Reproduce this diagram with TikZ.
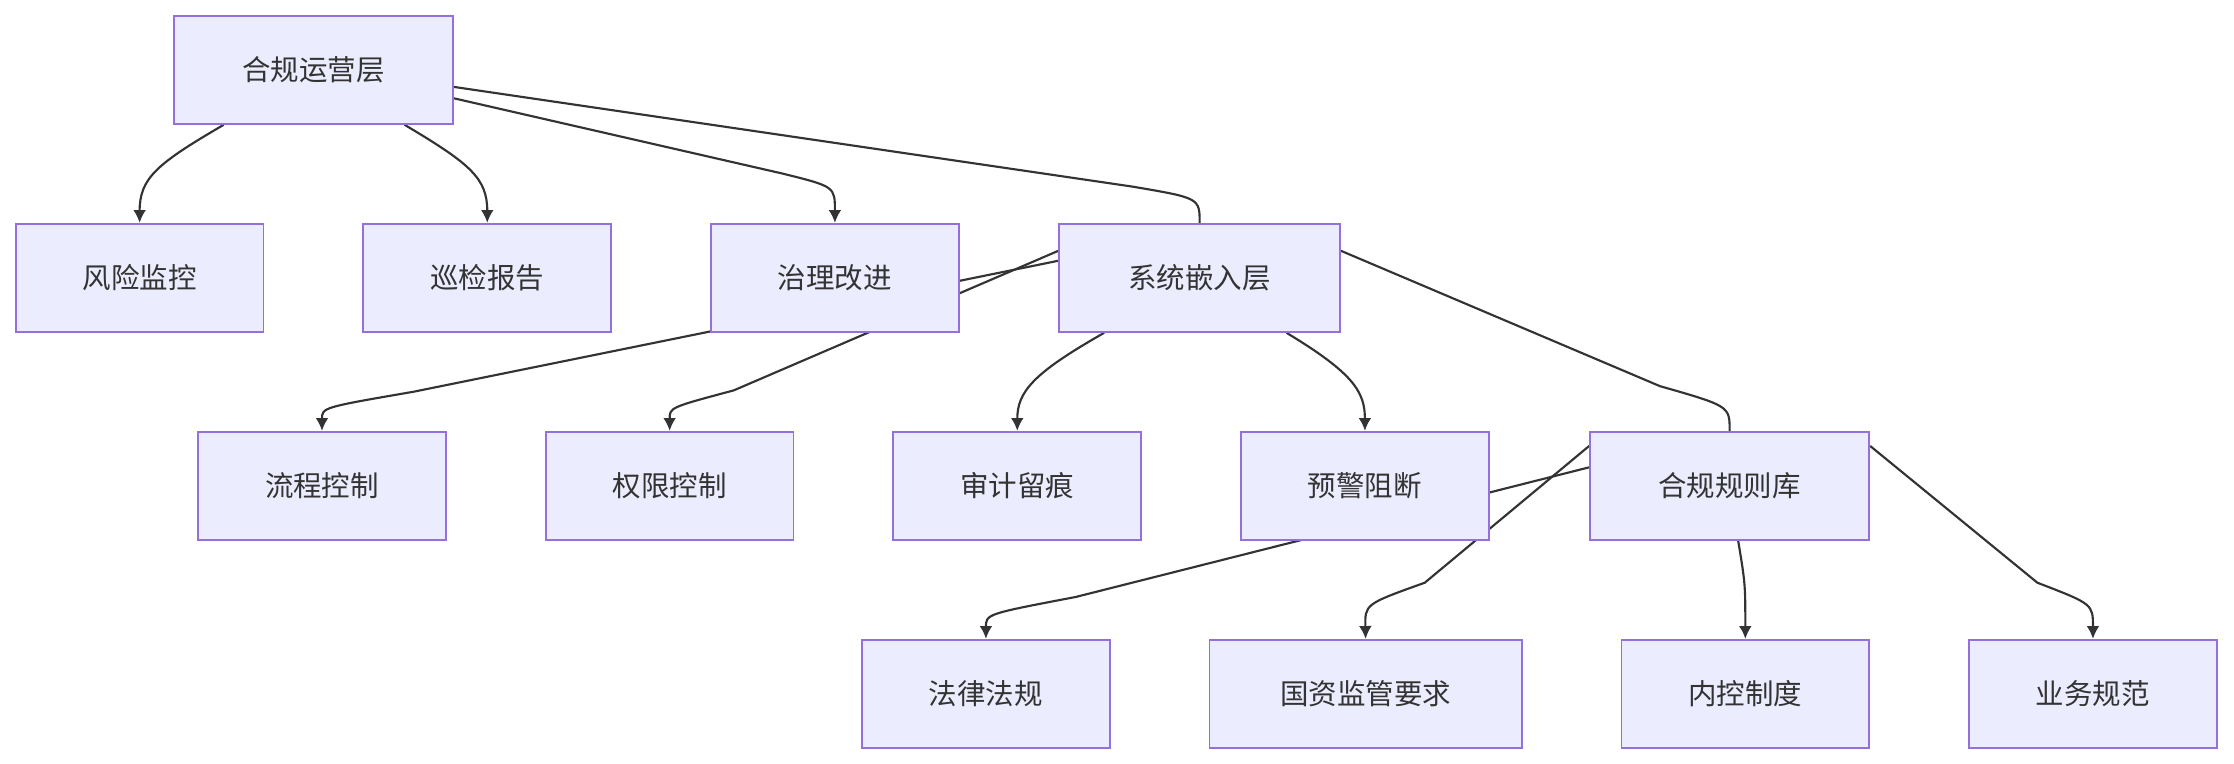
\documentclass[tikz,border=0pt]{standalone}
\usepackage{fontspec}
\setmainfont{Noto Sans CJK SC}
\usetikzlibrary{arrows.meta}
\pgfdeclarelayer{bg}
\pgfsetlayers{bg,main}
\definecolor{nfill}{HTML}{ECECFF}
\definecolor{nline}{HTML}{9370DB}
\definecolor{eline}{HTML}{333333}
\begin{document}
\begin{tikzpicture}[x=1pt,y=-1pt,
  box/.style={draw=nline,fill=nfill,line width=1.2pt,minimum height=76pt,inner sep=0pt,font=\fontsize{20}{24}\selectfont,text=eline},
  edge/.style={draw=eline,line width=1.5pt},
  arr/.style={edge,-{Latex[length=9pt,width=9pt]}}]
\useasboundingbox (0,0) rectangle (1568,536);
\node[box,minimum width=196pt] (ops) at (220,49) {合规运营层};
\node[box,minimum width=174pt] (risk) at (98,195) {风险监控};
\node[box,minimum width=174pt] (insp) at (342,195) {巡检报告};
\node[box,minimum width=174pt] (gov) at (586,195) {治理改进};
\node[box,minimum width=197pt] (sys) at (842,195) {系统嵌入层};
\node[box,minimum width=174pt] (flow) at (226,341) {流程控制};
\node[box,minimum width=174pt] (perm) at (470,341) {权限控制};
\node[box,minimum width=174pt] (audit) at (714,341) {审计留痕};
\node[box,minimum width=174pt] (warn) at (958,341) {预警阻断};
\node[box,minimum width=196pt] (rules) at (1214,341) {合规规则库};
\node[box,minimum width=174pt] (law) at (692,487) {法律法规};
\node[box,minimum width=219pt] (sasac) at (958.5,487) {国资监管要求};
\node[box,minimum width=174pt] (ictl) at (1225,487) {内控制度};
\node[box,minimum width=174pt] (biz) at (1469,487) {业务规范};
\begin{pgfonlayer}{bg}
\draw[arr] ([xshift=-63pt]ops.south) .. controls (110,115) and (98,125) .. (risk.north);
\draw[arr] ([xshift=64pt]ops.south) .. controls (330,115) and (342,125) .. (insp.north);
\draw[arr] ([yshift=-20pt]ops.east) -- (550,122) .. controls (586,131) .. (gov.north);
\draw[edge] ([yshift=-12pt]ops.east) -- (795,131) .. controls (842,139) .. (sys.north);
\draw[arr] ([yshift=12pt]sys.west) -- (290,275) .. controls (226,286) .. (flow.north);
\draw[arr] ([yshift=19pt]sys.west) -- (515,274) .. controls (470,286) .. (perm.north);
\draw[arr] ([xshift=-67pt]sys.south) .. controls (725,262) and (714,275) .. (audit.north);
\draw[arr] ([xshift=61pt]sys.south) .. controls (950,262) and (958,275) .. (warn.north);
\draw[edge] ([yshift=19pt]sys.east) -- (1165,271) .. controls (1214,285) .. (rules.north);
\draw[arr] ([yshift=13pt]rules.west) -- (755,419) .. controls (692,431) .. (law.north);
\draw[arr] ([yshift=28pt]rules.west) -- (1000,409) .. controls (958,424) .. (sasac.north);
\draw[arr] ([xshift=6pt]rules.south) .. controls (1225,410) .. (ictl.north);
\draw[arr] ([yshift=28pt]rules.east) -- (1430,409) .. controls (1469,424) .. (biz.north);
\end{pgfonlayer}
\end{tikzpicture}
\end{document}
